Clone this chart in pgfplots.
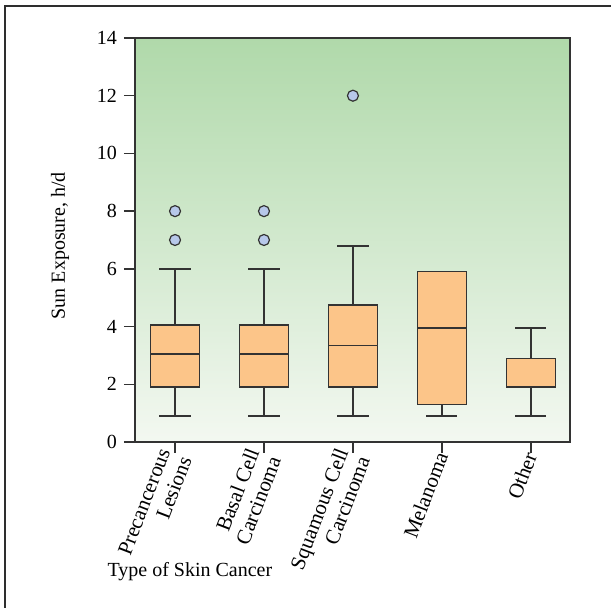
\documentclass[border=0pt]{standalone}
\usepackage{fontspec}
\setmainfont{Liberation Serif}
\usepackage{pgfplots}
\pgfplotsset{compat=1.18}
\usepgfplotslibrary{statistics}

\definecolor{bgtop}{HTML}{B0D9AA}
\definecolor{bgbot}{HTML}{F3F8F1}
\definecolor{boxfill}{HTML}{FCC589}
\definecolor{edge}{HTML}{333333}
\definecolor{dot}{HTML}{B7C8EA}
\definecolor{framegray}{HTML}{2E2E2E}

\begin{document}
\begin{tikzpicture}
\useasboundingbox (0,0) rectangle (305.5pt,304pt);
\draw[line width=1pt, framegray] (2.5pt,0) -- (2.5pt,301pt) -- (305.5pt,301pt);
\begin{axis}[
  at={(67.5pt,83pt)}, anchor=south west,
  scale only axis, width=217.5pt, height=202pt,
  xmin=-0.45, xmax=4.44, ymin=0, ymax=14,
  ytick={0,2,...,14},
  xtick={0,1,2,3,4},
  xticklabels={{Precancerous\\Lesions},{Basal Cell\\Carcinoma},{Squamous Cell\\Carcinoma},{Melanoma},{Other}},
  xticklabel style={rotate=69, anchor=east, align=right, font=\fontsize{10.5}{11.5}\selectfont, inner sep=1.5pt, xshift=1.5pt},
  yticklabel style={font=\fontsize{10}{12}\selectfont},
  /pgf/number format/assume math mode=true,
  tick pos=left, tick align=outside,
  major tick length=5.5pt,
  tick style={line width=0.75pt, edge},
  axis line style={line width=0.75pt, edge},
  axis background/.style={top color=bgtop, bottom color=bgbot},
  ylabel={Sun Exposure, h/d},
  ylabel style={at={(rel axis cs:-0.172,0.486)}, anchor=center, font=\fontsize{10}{12}\selectfont},
  boxplot/draw direction=y,
  boxplot/box extend=0.55,
  boxplot/whisker extend=0.35,
  clip=false,
]
% Precancerous lesions
\addplot[boxplot prepared={draw position=0, lower whisker=0.9, lower quartile=1.9, median=3.05, upper quartile=4.05, upper whisker=6},
  draw=edge, fill=boxfill, line width=0.75pt, mark=*, mark size=2.75pt,
  mark options={fill=dot, draw=edge, line width=0.6pt}]
  table[row sep=\\, y index=0] {7\\8\\};
% Basal cell carcinoma
\addplot[boxplot prepared={draw position=1, lower whisker=0.9, lower quartile=1.9, median=3.05, upper quartile=4.05, upper whisker=6},
  draw=edge, fill=boxfill, line width=0.75pt, mark=*, mark size=2.75pt,
  mark options={fill=dot, draw=edge, line width=0.6pt}]
  table[row sep=\\, y index=0] {7\\8\\};
% Squamous cell carcinoma
\addplot[boxplot prepared={draw position=2, lower whisker=0.9, lower quartile=1.9, median=3.35, upper quartile=4.75, upper whisker=6.8},
  draw=edge, fill=boxfill, line width=0.75pt, mark=*, mark size=2.75pt,
  mark options={fill=dot, draw=edge, line width=0.6pt}]
  table[row sep=\\, y index=0] {12\\};
% Melanoma
\addplot[boxplot prepared={draw position=3, lower whisker=0.9, lower quartile=1.3, median=3.95, upper quartile=5.9, upper whisker=5.9},
  draw=edge, fill=boxfill, line width=0.75pt]
  coordinates {};
% Other
\addplot[boxplot prepared={draw position=4, lower whisker=0.9, lower quartile=1.9, median=2.9, upper quartile=2.9, upper whisker=3.95},
  draw=edge, fill=boxfill, line width=0.75pt]
  coordinates {};
\node[anchor=base west, inner sep=0pt, font=\fontsize{10}{12}\selectfont] at (rel axis cs:-0.064,-0.334) {Type of Skin Cancer};
\end{axis}
\end{tikzpicture}
\end{document}
